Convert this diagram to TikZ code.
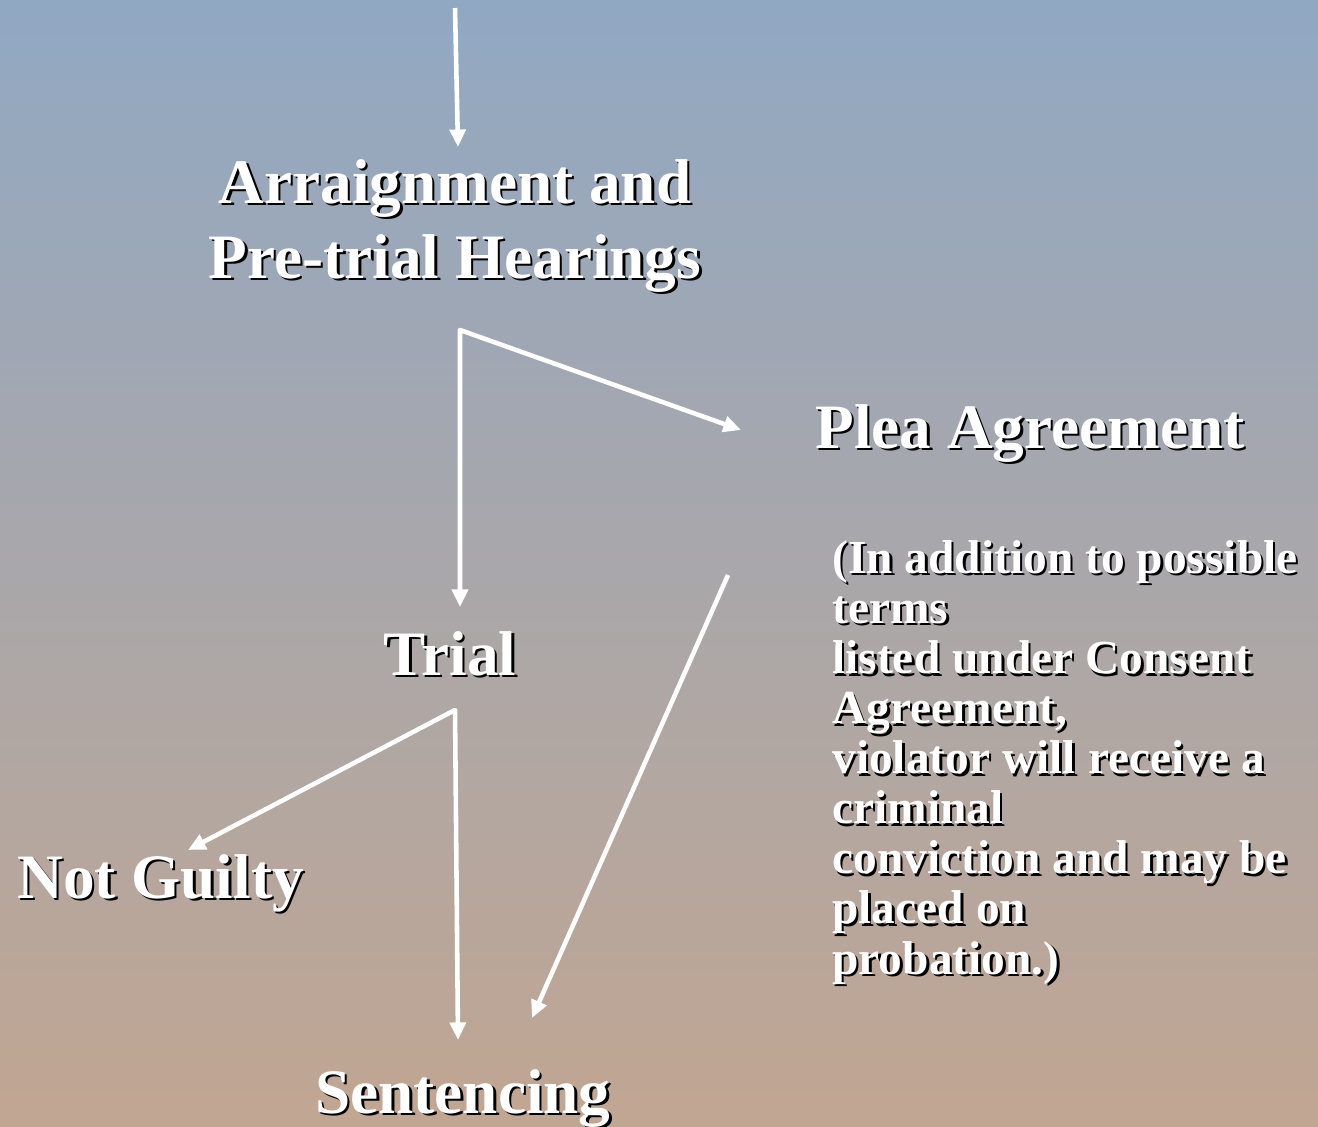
\documentclass[tikz,border=0pt]{standalone}
\usepackage{fontspec}
\setmainfont{Liberation Serif}
\usetikzlibrary{arrows.meta}
\definecolor{bgtop}{RGB}{145,168,195}
\definecolor{bgbottom}{RGB}{193,166,146}
% white text with a small dark drop shadow
\newcommand{\shtxt}[1]{\makebox[0pt][l]{\hspace{1.4pt}\raisebox{-1.4pt}{\color{black}#1}}#1}
\begin{document}
\begin{tikzpicture}[x=0.02cm, y=-0.02cm,
  stage/.style={text=white, font=\fontsize{36}{42.5}\selectfont\bfseries, align=center, inner sep=0pt},
  note/.style={text=white, font=\fontsize{27}{28.5}\selectfont\bfseries, align=left, inner sep=0pt},
  flow/.style={draw=white, line width=2.6pt, line join=round, -{Triangle[length=10pt,width=9pt]}}]
  % Background
  \shade[top color=bgtop, bottom color=bgbottom] (0,0) rectangle (1318,1126);
  \useasboundingbox (0,0) rectangle (1318,1126);

  % Stages (base = baseline of the last line)
  \node[stage, anchor=base] (arraign) at (455,278) {\shtxt{Arraignment and}\\\shtxt{Pre-trial Hearings}};
  \node[stage, anchor=base west] (plea) at (815,448) {\shtxt{Plea Agreement}};
  \node[stage, anchor=base] (trial) at (450,675) {\shtxt{Trial}};
  \node[stage, anchor=base west] (notguilty) at (17,898) {\shtxt{Not Guilty}};
  \node[stage, anchor=base] (sentencing) at (463,1113) {\shtxt{Sentencing}};

  % Plea note
  \node[note, anchor=base west] (pleanote) at (832,974) {\shtxt{(In addition to possible}\\\shtxt{terms}\\\shtxt{listed under Consent}\\\shtxt{Agreement,}\\\shtxt{violator will receive a}\\\shtxt{criminal}\\\shtxt{conviction and may be}\\\shtxt{placed on}\\\shtxt{probation.)}};

  % Arrow ends
  \coordinate (entry) at (455,8);
  \coordinate (arraign-in) at (458,147);
  \coordinate (split1) at (460,330);
  \coordinate (trial-in) at (460,607);
  \coordinate (plea-in) at (741,430);
  \coordinate (split2) at (455,710);
  \coordinate (notguilty-in) at (188,850);
  \coordinate (sentencing-in) at (458,1040);
  \coordinate (plea-out) at (728,575);
  \coordinate (sentencing-in2) at (532,1018);

  % Arrows
  \draw[flow] (entry) -- (arraign-in);
  \draw[flow, {Triangle[length=10pt,width=9pt]}-{Triangle[length=10pt,width=9pt]}] (trial-in) -- (split1) -- (plea-in);
  \draw[flow, {Triangle[length=10pt,width=9pt]}-{Triangle[length=10pt,width=9pt]}] (notguilty-in) -- (split2) -- (sentencing-in);
  \draw[flow] (plea-out) -- (sentencing-in2);
\end{tikzpicture}
\end{document}
